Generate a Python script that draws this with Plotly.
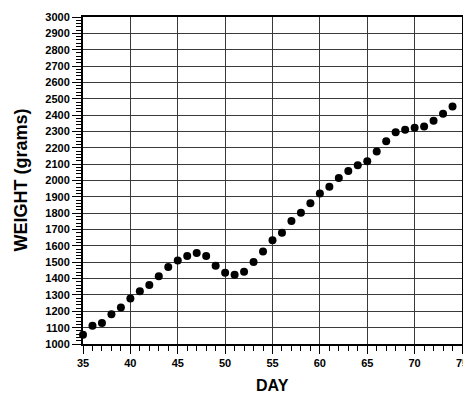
import plotly.graph_objects as go

days = list(range(35, 75))
weights = [1057, 1112, 1128, 1182, 1224, 1279, 1322, 1361, 1414, 1471,
           1510, 1538, 1556, 1538, 1479, 1436, 1424, 1442, 1502, 1565,
           1634, 1681, 1752, 1803, 1861, 1920, 1962, 2015, 2058, 2093,
           2117, 2178, 2240, 2295, 2311, 2323, 2331, 2366, 2408, 2453]

x_ticks = [35, 40, 45, 50, 55, 60, 65, 70, 75]
y_ticks = list(range(1000, 3001, 100))

FONT = "Liberation Sans, Arial, sans-serif"

fig = go.Figure()
fig.add_trace(go.Scatter(
    x=days, y=weights, mode="markers",
    marker=dict(color="black", size=8, line=dict(width=0)),
    showlegend=False, cliponaxis=False,
))

axis_common = dict(
    showline=True, linecolor="black", linewidth=2, mirror=True,
    showgrid=True, gridcolor="#3a3a3a", gridwidth=1,
    ticks="outside", tickcolor="black", tickwidth=1,
    tickfont=dict(family=FONT, size=11, color="black", weight="bold"),
    zeroline=False, automargin=False, ticklabeloverflow="allow",
)

fig.update_xaxes(
    **axis_common,
    range=[35, 75], tickvals=x_ticks, ticklen=8,
    minor=dict(dtick=1, tick0=35, ticks="outside", ticklen=5, tickcolor="black", showgrid=False),
)
fig.update_yaxes(
    **axis_common,
    range=[1000, 3000], tickvals=y_ticks, ticklen=9,
    minor=dict(dtick=20, tick0=1000, ticks="outside", ticklen=5, tickcolor="black", showgrid=False),
)

fig.add_annotation(text="DAY", xref="paper", yref="paper", x=0.5, y=0,
                   yshift=-41, yanchor="middle", showarrow=False,
                   font=dict(family=FONT, size=16, color="black", weight="bold"))
fig.add_annotation(text="WEIGHT (grams)", xref="paper", yref="paper", x=0, y=0.5,
                   xshift=-63, xanchor="center", yanchor="middle", textangle=-90,
                   showarrow=False,
                   font=dict(family=FONT, size=18, color="black", weight="bold"))

fig.update_layout(
    width=463, height=394,
    margin=dict(l=83, r=1, t=17, b=50, autoexpand=False),
    paper_bgcolor="white", plot_bgcolor="white",
    font=dict(family=FONT, color="black"),
)

fig.write_html("out.html", config={"displayModeBar": False},
               post_script="document.body.style.margin='0';document.body.style.overflow='hidden';")
